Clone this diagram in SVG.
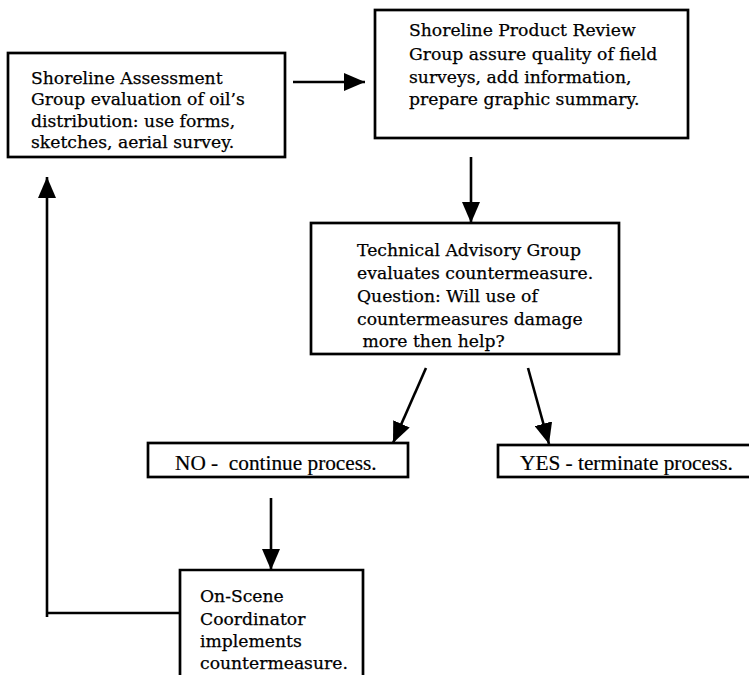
<svg xmlns="http://www.w3.org/2000/svg" width="749" height="675" viewBox="0 0 749 675">
<style>
.box{fill:#fff;stroke:#000;stroke-width:2.7}
.t{font-family:"DejaVu Serif",serif;font-size:17.2px;fill:#000;stroke:#000;stroke-width:0.25}
.s{font-family:"Liberation Serif",serif;font-size:21.3px;fill:#000;stroke:#000;stroke-width:0.2}
.c{fill:none;stroke:#000;stroke-width:2.6}
</style>
<defs>
<marker id="a" viewBox="0 0 21 18" refX="21" refY="9" markerWidth="21" markerHeight="18" markerUnits="userSpaceOnUse" orient="auto">
<path d="M0,0 L21,9 L0,18 z" fill="#000"/>
</marker>
</defs>
<rect width="749" height="675" fill="#fff"/>
<g id="connectors">
<line class="c" x1="293" y1="82" x2="365" y2="82" marker-end="url(#a)"/>
<line class="c" x1="471" y1="157" x2="471" y2="223" marker-end="url(#a)"/>
<line class="c" x1="426" y1="368" x2="393" y2="443" marker-end="url(#a)"/>
<line class="c" x1="528" y1="368" x2="549" y2="444" marker-end="url(#a)"/>
<line class="c" x1="271" y1="498" x2="271" y2="570" marker-end="url(#a)"/>
<polyline class="c" points="180,613 47,613"/>
<line class="c" x1="47" y1="617" x2="47" y2="177" marker-end="url(#a)"/>
</g>
<g id="n1">
<rect class="box" x="8" y="53" width="277" height="104"/>
<text class="t"><tspan x="31" y="84">Shoreline Assessment</tspan><tspan x="31" y="105">Group evaluation of oil’s</tspan><tspan x="31" y="127">distribution: use forms,</tspan><tspan x="31" y="148">sketches, aerial survey.</tspan></text>
</g>
<g id="n2">
<rect class="box" x="375" y="10" width="313" height="128"/>
<text class="t"><tspan x="409" y="36">Shoreline Product Review</tspan><tspan x="409" y="60">Group assure quality of field</tspan><tspan x="409" y="83">surveys, add information,</tspan><tspan x="409" y="105">prepare graphic summary.</tspan></text>
</g>
<g id="n3">
<rect class="box" x="311" y="223" width="308" height="131"/>
<text class="t"><tspan x="357" y="256">Technical Advisory Group</tspan><tspan x="357" y="279">evaluates countermeasure.</tspan><tspan x="357" y="302">Question: Will use of</tspan><tspan x="357" y="325">countermeasures damage</tspan><tspan x="357" y="347" xml:space="preserve"> more then help?</tspan></text>
</g>
<g id="n4">
<rect class="box" x="148" y="443" width="260" height="34"/>
<text class="s" x="175" y="470" xml:space="preserve">NO -  continue process.</text>
</g>
<g id="n5">
<rect class="box" x="498" y="445" width="270" height="32"/>
<text class="s" x="520" y="470">YES - terminate process.</text>
</g>
<g id="n6">
<path class="box" d="M180,680 V570 H363 V680"/>
<text class="t"><tspan x="200" y="602">On-Scene</tspan><tspan x="200" y="625">Coordinator</tspan><tspan x="200" y="647">implements</tspan><tspan x="200" y="669">countermeasure.</tspan></text>
</g>
</svg>
